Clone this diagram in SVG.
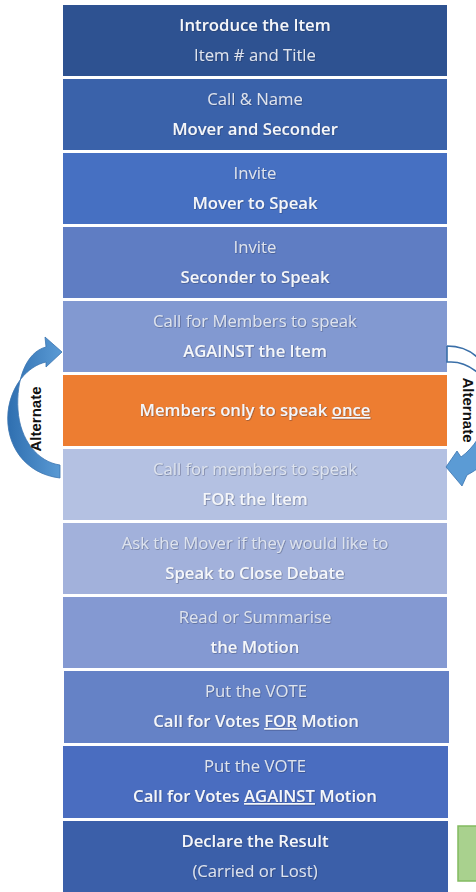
<svg xmlns="http://www.w3.org/2000/svg" width="476" height="892" viewBox="0 0 476 892">
<defs>
<style>
.t1{font-family:"Open Sans","Noto Sans",sans-serif;font-size:16.7px;fill:#DDE3EF;text-anchor:middle;filter:url(#sh)}
.t2{font-family:"Open Sans","Noto Sans",sans-serif;font-size:16.7px;font-weight:600;fill:#F4F6FA;text-anchor:middle;filter:url(#sh)}
.alt{font-family:"Liberation Sans",Arial,sans-serif;font-size:15px;font-weight:bold;fill:#111;text-anchor:middle}
.u{text-decoration:underline}
</style>
<filter id="sh" x="-10%" y="-30%" width="120%" height="160%">
<feDropShadow dx="0.6" dy="0.6" stdDeviation="0.7" flood-color="#1a2a4a" flood-opacity="0.55"/>
</filter>
<linearGradient id="ag" x1="0" y1="0" x2="1" y2="0">
<stop offset="0" stop-color="#2F6FB0"/>
<stop offset="1" stop-color="#5B9BD5"/>
</linearGradient>
</defs>
<rect width="476" height="892" fill="#FFFFFF"/>

<g id="n1"><rect x="63" y="5" width="384" height="71" fill="#2E5291"/>
<text class="t2" x="255" y="31">Introduce the Item</text><text class="t1" x="255" y="61">Item # and Title</text></g>
<g id="n2"><rect x="63" y="79" width="384" height="71" fill="#3A62AA"/>
<text class="t1" x="255" y="105">Call &amp; Name</text><text class="t2" x="255" y="135">Mover and Seconder</text></g>
<g id="n3"><rect x="63" y="153" width="384" height="71" fill="#4670C2"/>
<text class="t1" x="255" y="179">Invite</text><text class="t2" x="255" y="209">Mover to Speak</text></g>
<g id="n4"><rect x="63" y="227" width="384" height="71" fill="#5F7DC3"/>
<text class="t1" x="255" y="253">Invite</text><text class="t2" x="255" y="283">Seconder to Speak</text></g>
<g id="n5"><rect x="63" y="301" width="384" height="71" fill="#8299D1"/>
<text class="t1" x="255" y="327">Call for Members to speak</text><text class="t2" x="255" y="357">AGAINST the Item</text></g>
<g id="n6"><rect x="63" y="375" width="384" height="71" fill="#ED7D31"/>
<text class="t2" x="255" y="416">Members only to speak <tspan class="u">once</tspan></text></g>
<g id="n7"><rect x="63" y="449" width="384" height="71" fill="#B4C1E2"/>
<text class="t1" x="255" y="475">Call for members to speak</text><text class="t2" x="255" y="505">FOR the Item</text></g>
<g id="n8"><rect x="63" y="523" width="384" height="71" fill="#A2B1DB"/>
<text class="t1" x="255" y="549">Ask the Mover if they would like to</text><text class="t2" x="255" y="579">Speak to Close Debate</text></g>
<g id="n9"><rect x="63" y="597" width="384" height="71" fill="#8499D2"/>
<text class="t1" x="255" y="623">Read or Summarise</text><text class="t2" x="255" y="653">the Motion</text></g>
<g id="n10"><rect x="64" y="671" width="385" height="72" fill="#6582C6"/>
<text class="t1" x="256" y="697">Put the VOTE</text><text class="t2" x="256" y="727">Call for Votes <tspan class="u">FOR</tspan> Motion</text></g>
<g id="n11"><rect x="63" y="746" width="385" height="72" fill="#4A6DC0"/>
<text class="t1" x="255" y="772">Put the VOTE</text><text class="t2" x="255" y="802">Call for Votes <tspan class="u">AGAINST</tspan> Motion</text></g>
<g id="n12"><rect x="63" y="821" width="385" height="71" fill="#3B5FA9"/>
<text class="t2" x="255" y="847">Declare the Result</text><text class="t1" x="255" y="877">(Carried or Lost)</text></g>
<g id="n13"><rect x="458" y="826" width="22" height="55" fill="#A9D18E" stroke="#82BB60" stroke-width="1.5"/></g>

<g id="connectors">
<path d="M60 478 C25 474 5 445 8 412 C11 385 28 366 46 362 L46 367 L62 352 L45 337 L46 347 C26 352 16 380 18 410 C20 440 38 462 60 465 Z" fill="url(#ag)" stroke="#3A74B0" stroke-width="0.8"/>
<path d="M447 346 C458 346 470 350 478 358 M447 346 L447 362 L451 362 C461 362 470 366 478 373" fill="none" stroke="#3A6FA8" stroke-width="1.6"/>
<path d="M446 467 L457 451 L461 457 C468 452 473 446 477 440 L477 469 C474 471 471 473 467 475 L462 486 Z" fill="#5B9BD5" stroke="#3A74B0" stroke-width="0.8"/>
</g>
<text class="alt" transform="translate(41 419) rotate(-90)">Alternate</text>
<text class="alt" transform="translate(463 410) rotate(90)">Alternate</text>
</svg>
